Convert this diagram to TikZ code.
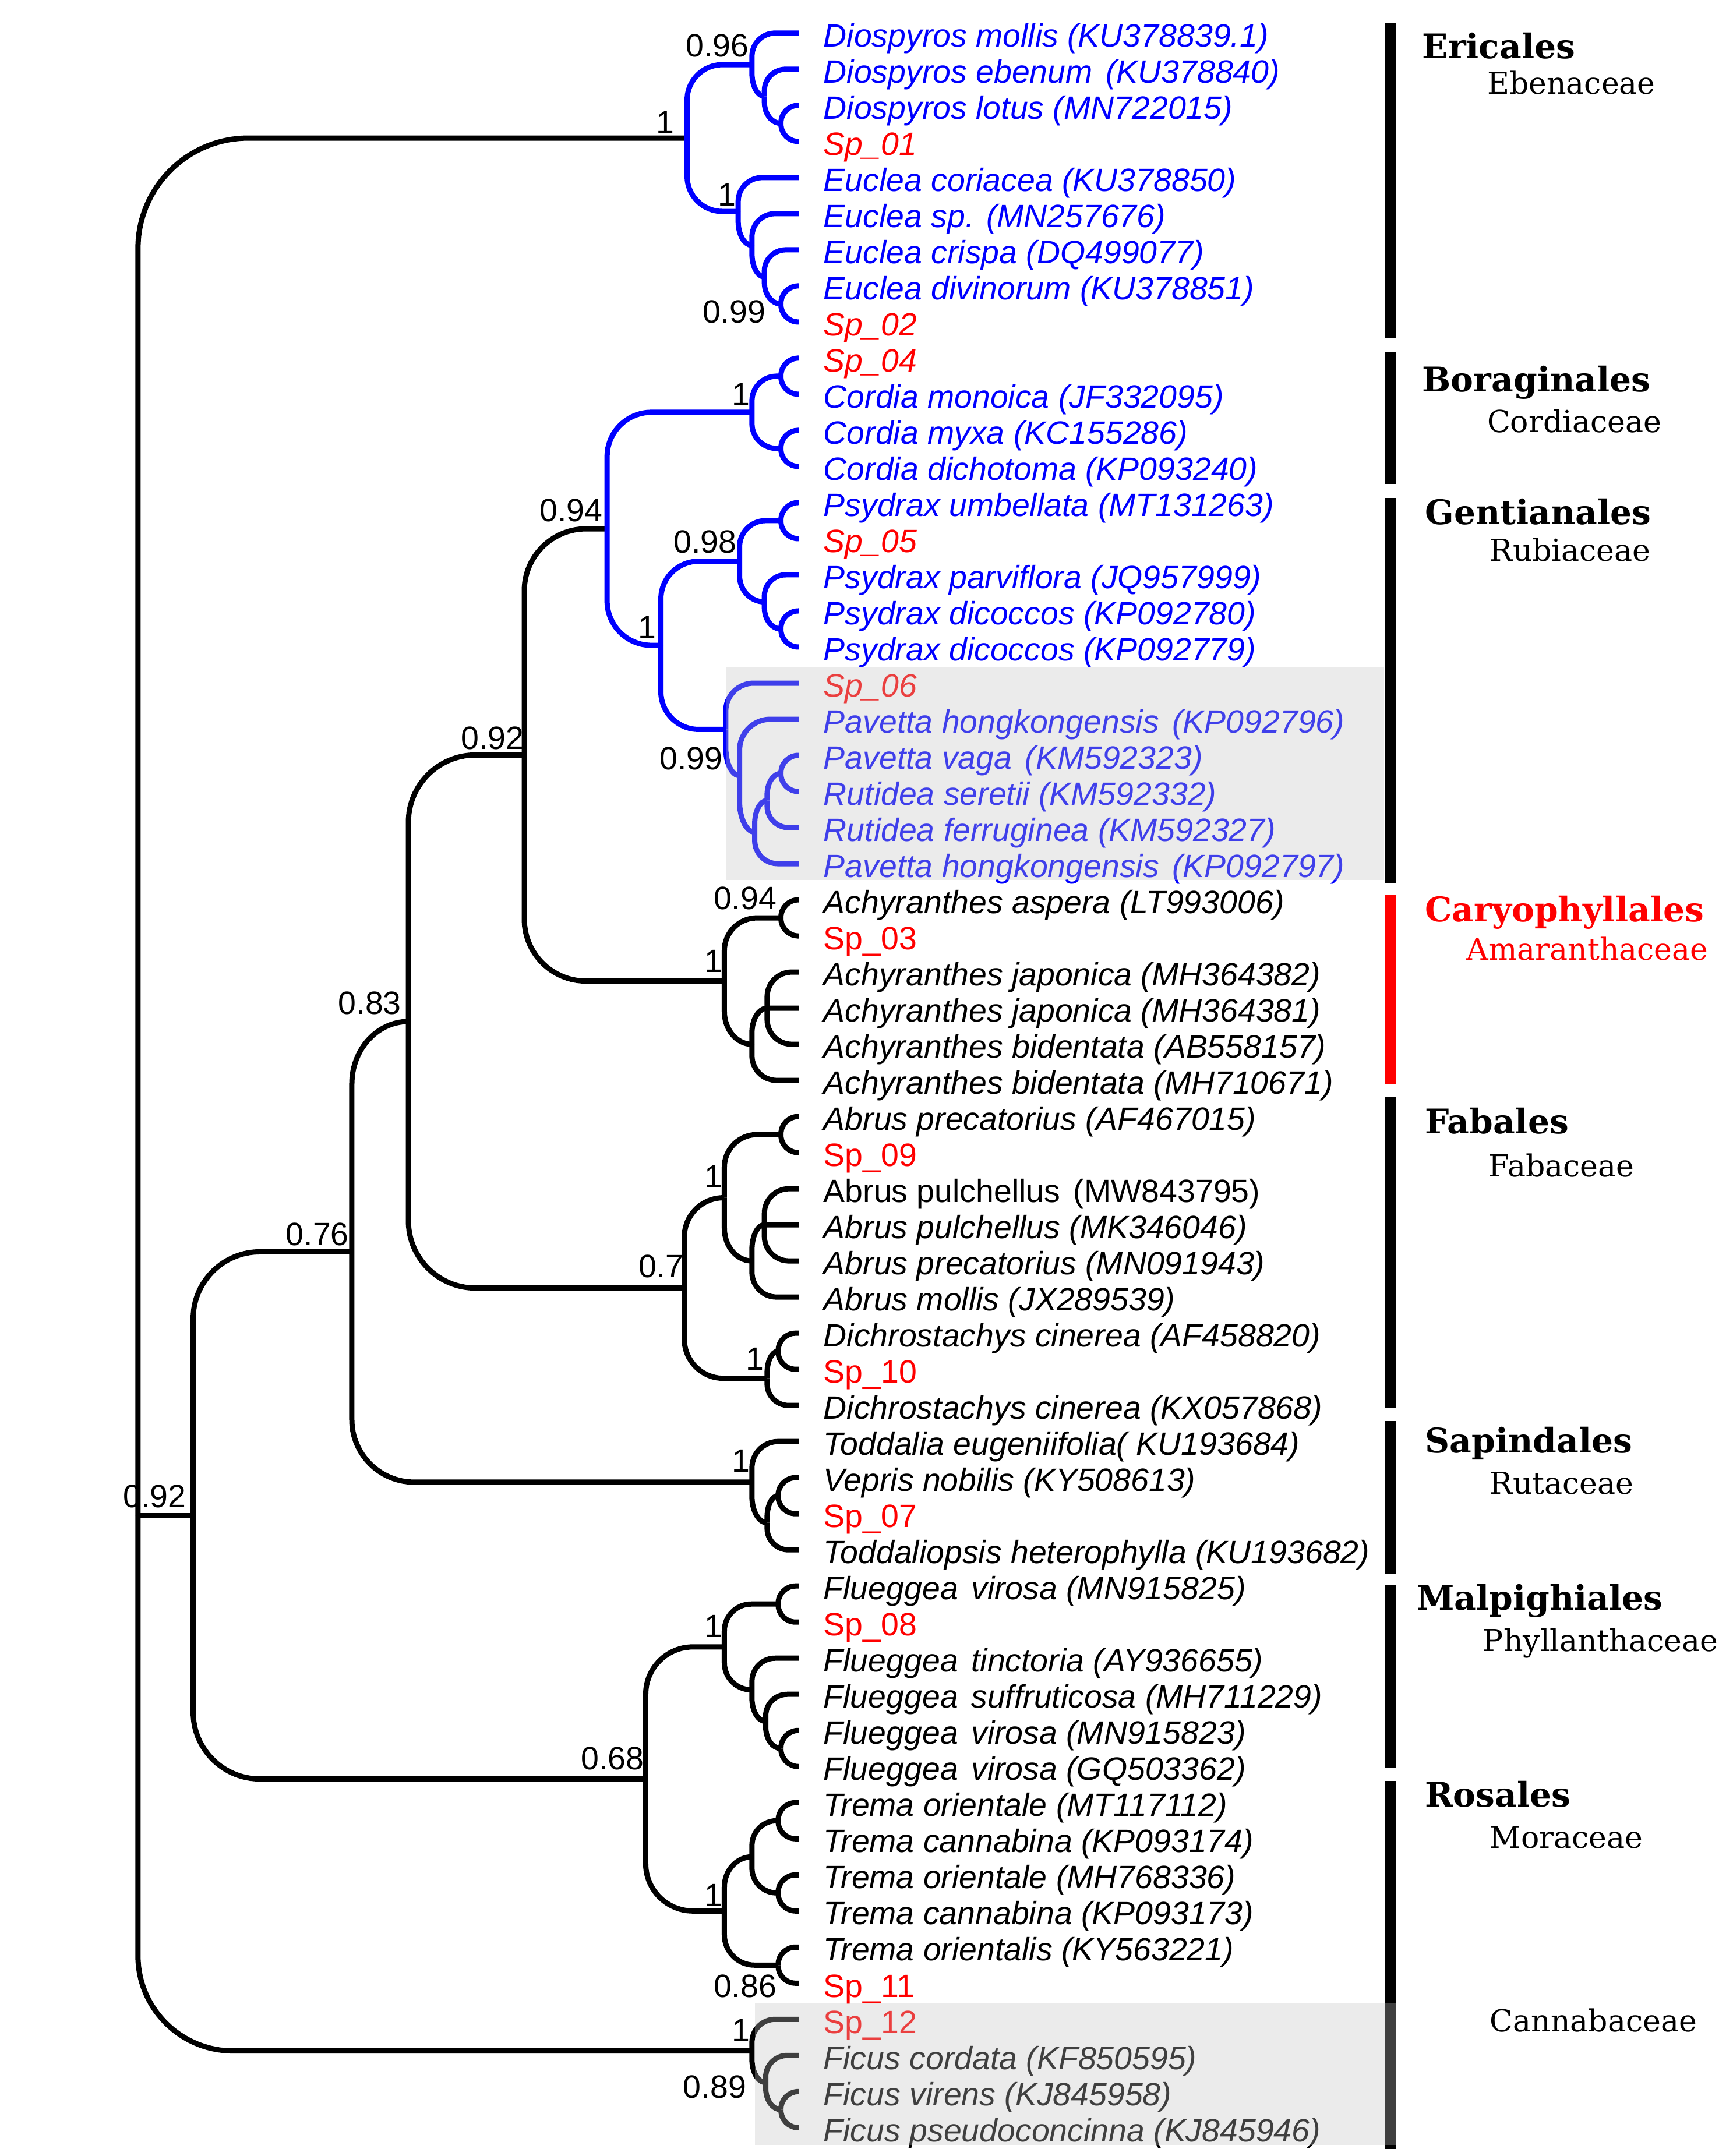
\documentclass[tikz,border=0pt]{standalone}
\usepackage{fontspec}
\setmainfont{Liberation Sans}
\newfontfamily\serifont{DejaVu Serif}
\usetikzlibrary{calc}
\definecolor{tblue}{RGB}{0,0,255}
\definecolor{tred}{RGB}{255,0,0}
\definecolor{boxc}{RGB}{194,194,194}
% corner radius grows with the square root of the vertical span
\newcommand\br[3][black]{%
  \draw[#1] let \p1=(#2), \p2=(#3),
    \n1={abs(\y2-\y1)}, \n2={\x2-\x1},
    \n6={min(2.475*sqrt(\n1),40)},
    \n3={min(\n1,\n6)}, \n4={min(\n2,\n6)},
    \n5={sign(\y2-\y1)} in
    (\x1,\y1) -- (\x1,{\y2-(\n5)*(\n3)})
    .. controls (\x1,{\y2-(\n5)*0.448*(\n3)}) and ({\x1+0.448*(\n4)},\y2) ..
    ({\x1+\n4},\y2) -- (\x2,\y2);}
\newcommand\brs[3][black]{\foreach \c in {#3}{\br[#1]{#2}{\c}}}
\newcommand\gap{\ \hspace{1.5pt}}
\begin{document}
\begin{tikzpicture}[x=0.5pt,y=-0.5pt, line width=1.9pt, line join=round,
  leaf/.style={anchor=base west, inner sep=0pt, font=\fontsize{11.7pt}{14pt}\selectfont},
  sup/.style={inner sep=0pt, font=\fontsize{11.7pt}{14pt}\selectfont},
  ord/.style={anchor=base west, inner sep=0pt, font=\serifont\bfseries\fontsize{12.3pt}{14pt}\selectfont},
  fam/.style={anchor=base west, inner sep=0pt, font=\serifont\fontsize{11pt}{14pt}\selectfont}]
\useasboundingbox (0,0) rectangle (1256,1563);
% leaf tips
\foreach \i in {1,...,59} \coordinate (L\i) at (579,{24+(\i-1)*26.18});
% internal nodes
\coordinate (d3) at (566,89.45);
\coordinate (d2) at (554,69.82);
\coordinate (dio) at (545,46.91);
\coordinate (e4) at (566,220.35);
\coordinate (e3) at (554,200.72);
\coordinate (e2) at (545,177.81);
\coordinate (euc) at (535,153.27);
\coordinate (E) at (498,100.09);
\coordinate (b1) at (566,272.71);
\coordinate (b2) at (566,325.07);
\coordinate (B) at (545,298.89);
\coordinate (g1) at (566,377.43);
\coordinate (g3) at (566,455.97);
\coordinate (g2) at (554,436.34);
\coordinate (G98) at (536,406.88);
\coordinate (p4) at (566,560.69);
\coordinate (p3) at (556,580.33);
\coordinate (p2) at (547,603.23);
\coordinate (p1) at (536,562.33);
\coordinate (P) at (526,528.78);
\coordinate (G1) at (479,467.83);
\coordinate (N094) at (440,383.36);
\coordinate (a1) at (566,665.41);
\coordinate (a3) at (556,730.86);
\coordinate (a2) at (545,757.04);
\coordinate (A) at (525,711.23);
\coordinate (N092b) at (380,547.30);
\coordinate (f1) at (566,822.49);
\coordinate (f3) at (554,887.94);
\coordinate (f2) at (545,914.12);
\coordinate (Ab) at (525,868.31);
\coordinate (f4) at (564,979.57);
\coordinate (Di) at (556,999.2);
\coordinate (F07) at (496,933.76);
\coordinate (N083) at (296,740.53);
\coordinate (s2) at (564,1084.29);
\coordinate (s1) at (556,1103.93);
\coordinate (S) at (545,1074.47);
\coordinate (N076) at (255,907.5);
\coordinate (m1) at (564,1162.83);
\coordinate (m4) at (566,1267.55);
\coordinate (m3) at (555,1247.92);
\coordinate (m2) at (545,1225.01);
\coordinate (Fl) at (525,1193.92);
\coordinate (t1) at (564,1319.91);
\coordinate (t2) at (564,1372.27);
\coordinate (t0) at (545,1346.09);
\coordinate (t3) at (564,1424.63);
\coordinate (Tr) at (525,1385.36);
\coordinate (N068) at (468,1289.64);
\coordinate (N092a) at (140,1098.57);
\coordinate (k2) at (566,1529.35);
\coordinate (k1) at (555,1509.72);
\coordinate (Fic) at (545,1486.81);
\coordinate (R) at (100,1098.57);
% black branches
\brs{R}{E,N092a,Fic}
\brs{N092a}{N076,N068}
\brs{N076}{N083,S}
\brs{N083}{N092b,F07}
\brs{N092b}{N094,A}
\brs{A}{a1,a2}
\brs{a1}{L25,L26}
\brs{a2}{a3,L30}
\brs{a3}{L27,L28,L29}
\brs{F07}{Ab,Di}
\brs{Ab}{f1,f2}
\brs{f1}{L31,L32}
\brs{f2}{f3,L36}
\brs{f3}{L33,L34,L35}
\brs{Di}{f4,L39}
\brs{f4}{L37,L38}
\brs{S}{L40,s1}
\brs{s1}{s2,L43}
\brs{s2}{L41,L42}
\brs{N068}{Fl,Tr}
\brs{Fl}{m1,m2}
\brs{m1}{L44,L45}
\brs{m2}{L46,m3}
\brs{m3}{L47,m4}
\brs{m4}{L48,L49}
\brs{Tr}{t0,t3}
\brs{t0}{t1,t2}
\brs{t1}{L50,L51}
\brs{t2}{L52,L53}
\brs{t3}{L54,L55}
\brs{Fic}{L56,k1}
\brs{k1}{L57,k2}
\brs{k2}{L58,L59}
% blue branches
\brs[tblue]{E}{dio,euc}
\brs[tblue]{dio}{L1,d2}
\brs[tblue]{d2}{L2,d3}
\brs[tblue]{d3}{L3,L4}
\brs[tblue]{euc}{L5,e2}
\brs[tblue]{e2}{L6,e3}
\brs[tblue]{e3}{L7,e4}
\brs[tblue]{e4}{L8,L9}
\brs[tblue]{N094}{B,G1}
\brs[tblue]{B}{b1,b2}
\brs[tblue]{b1}{L10,L11}
\brs[tblue]{b2}{L12,L13}
\brs[tblue]{G1}{G98,P}
\brs[tblue]{G98}{g1,g2}
\brs[tblue]{g1}{L14,L15}
\brs[tblue]{g2}{L16,g3}
\brs[tblue]{g3}{L17,L18}
\brs[tblue]{P}{L19,p1}
\brs[tblue]{p1}{L20,p2}
\brs[tblue]{p2}{p3,L24}
\brs[tblue]{p3}{p4,L23}
\brs[tblue]{p4}{L21,L22}
% leaf labels
\foreach \i/\c/\f/\t in {
 1/tblue/\itshape/{Diospyros mollis (KU378839.1)},
 2/tblue/\itshape/{Diospyros ebenum\gap(KU378840)},
 3/tblue/\itshape/{Diospyros lotus (MN722015)},
 4/tred/\itshape/{Sp\_01},
 5/tblue/\itshape/{Euclea coriacea (KU378850)},
 6/tblue/\itshape/{Euclea sp. (MN257676)},
 7/tblue/\itshape/{Euclea crispa (DQ499077)},
 8/tblue/\itshape/{Euclea divinorum (KU378851)},
 9/tred/\itshape/{Sp\_02},
 10/tred/\itshape/{Sp\_04},
 11/tblue/\itshape/{Cordia monoica (JF332095)},
 12/tblue/\itshape/{Cordia myxa (KC155286)},
 13/tblue/\itshape/{Cordia dichotoma (KP093240)},
 14/tblue/\itshape/{Psydrax umbellata (MT131263)},
 15/tred/\itshape/{Sp\_05},
 16/tblue/\itshape/{Psydrax parviflora (JQ957999)},
 17/tblue/\itshape/{Psydrax dicoccos (KP092780)},
 18/tblue/\itshape/{Psydrax dicoccos (KP092779)},
 19/tred/\itshape/{Sp\_06},
 20/tblue/\itshape/{Pavetta hongkongensis\gap(KP092796)},
 21/tblue/\itshape/{Pavetta vaga\gap(KM592323)},
 22/tblue/\itshape/{Rutidea seretii (KM592332)},
 23/tblue/\itshape/{Rutidea ferruginea (KM592327)},
 24/tblue/\itshape/{Pavetta hongkongensis\gap(KP092797)},
 25/black/\itshape/{Achyranthes aspera (LT993006)},
 26/tred/\upshape/{Sp\_03},
 27/black/\itshape/{Achyranthes japonica (MH364382)},
 28/black/\itshape/{Achyranthes japonica (MH364381)},
 29/black/\itshape/{Achyranthes bidentata (AB558157)},
 30/black/\itshape/{Achyranthes bidentata (MH710671)},
 31/black/\itshape/{Abrus precatorius (AF467015)},
 32/tred/\upshape/{Sp\_09},
 33/black/\upshape/{Abrus pulchellus\gap(MW843795)},
 34/black/\itshape/{Abrus pulchellus (MK346046)},
 35/black/\itshape/{Abrus precatorius (MN091943)},
 36/black/\itshape/{Abrus mollis (JX289539)},
 37/black/\itshape/{Dichrostachys cinerea (AF458820)},
 38/tred/\upshape/{Sp\_10},
 39/black/\itshape/{Dichrostachys cinerea (KX057868)},
 40/black/\itshape/{Toddalia eugeniifolia( KU193684)},
 41/black/\itshape/{Vepris nobilis (KY508613)},
 42/tred/\upshape/{Sp\_07},
 43/black/\itshape/{Toddaliopsis heterophylla (KU193682)},
 44/black/\itshape/{Flueggea\gap virosa (MN915825)},
 45/tred/\upshape/{Sp\_08},
 46/black/\itshape/{Flueggea\gap tinctoria (AY936655)},
 47/black/\itshape/{Flueggea\gap suffruticosa (MH711229)},
 48/black/\itshape/{Flueggea\gap virosa (MN915823)},
 49/black/\itshape/{Flueggea\gap virosa (GQ503362)},
 50/black/\itshape/{Trema orientale (MT117112)},
 51/black/\itshape/{Trema cannabina (KP093174)},
 52/black/\itshape/{Trema orientale (MH768336)},
 53/black/\itshape/{Trema cannabina (KP093173)},
 54/black/\itshape/{Trema orientalis (KY563221)},
 55/tred/\upshape/{Sp\_11},
 56/tred/\upshape/{Sp\_12},
 57/black/\itshape/{Ficus cordata (KF850595)},
 58/black/\itshape/{Ficus virens (KJ845958)},
 59/black/\itshape/{Ficus pseudoconcinna (KJ845946)}}
 \node[leaf, text=\c] (lab\i) at (595,{34+(\i-1)*26.18}) {\f\t};
% support values
\node[sup] (v1) at (482,89) {1};
\node[sup] (v2) at (520,33) {0.96};
\node[sup] (v3) at (527,141) {1};
\node[sup] (v4) at (532,226) {0.99};
\node[sup] (v5) at (537,286) {1};
\node[sup] (v6) at (414,370) {0.94};
\node[sup] (v7) at (511,393) {0.98};
\node[sup] (v8) at (469,455) {1};
\node[sup] (v9) at (501,550) {0.99};
\node[sup] (v10) at (357,535) {0.92};
\node[sup] (v11) at (540,651) {0.94};
\node[sup] (v12) at (517,697) {1};
\node[sup] (v13) at (268,727) {0.83};
\node[sup] (v14) at (517,853) {1};
\node[sup] (v15) at (230,895) {0.76};
\node[sup] (v16) at (479,918) {0.7};
\node[sup] (v17) at (547,985) {1};
\node[sup] (v18) at (537,1059) {1};
\node[sup] (v19) at (112,1085) {0.92};
\node[sup] (v20) at (517,1179) {1};
\node[sup] (v21) at (444,1275) {0.68};
\node[sup] (v22) at (517,1374) {1};
\node[sup] (v23) at (540,1440) {0.86};
\node[sup] (v24) at (537,1472) {1};
\node[sup] (v25) at (518,1513) {0.89};
% clade bars
\fill (1004,17) rectangle (1012,245);
\fill (1004,255) rectangle (1012,351);
\fill (1004,361) rectangle (1012,640);
\fill[tred] (1004,649) rectangle (1012,786);
\fill (1004,795) rectangle (1012,1021);
\fill (1004,1030) rectangle (1012,1141);
\fill (1004,1149) rectangle (1012,1282);
\fill (1004,1291) rectangle (1012,1558);
% clade names
\node[ord] (o1) at (1029,42.6) {Ericales};
\node[fam] (f1n) at (1076,68.3) {Ebenaceae};
\node[ord] (o2) at (1029,284) {Boraginales};
\node[fam] (f2n) at (1076,313.5) {Cordiaceae};
\node[ord] (o3) at (1031,380) {Gentianales};
\node[fam] (f3n) at (1078,407) {Rubiaceae};
\node[ord, text=tred] (o4) at (1031,668) {Caryophyllales};
\node[fam, text=tred] (f4n) at (1061,696) {Amaranthaceae};
\node[ord] (o5) at (1031,822) {Fabales};
\node[fam] (f5n) at (1077,853) {Fabaceae};
\node[ord] (o6) at (1031,1053) {Sapindales};
\node[fam] (f6n) at (1078,1083) {Rutaceae};
\node[ord] (o7) at (1025,1167) {Malpighiales};
\node[fam] (f7n) at (1073,1197) {Phyllanthaceae};
\node[ord] (o8) at (1031,1310) {Rosales};
\node[fam] (f8n) at (1078,1340) {Moraceae};
\node[fam] (f9n) at (1078,1473) {Cannabaceae};
% translucent highlight boxes
\fill[boxc, fill opacity=0.33] (526,484) rectangle (1003,638);
\fill[boxc, fill opacity=0.33] (547,1452) rectangle (1012,1555);
\end{tikzpicture}
\end{document}
